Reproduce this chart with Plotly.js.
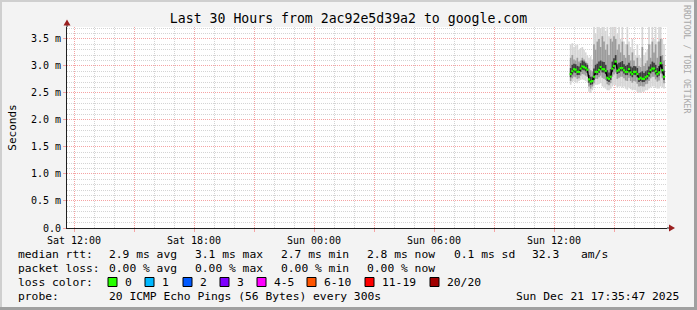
<!DOCTYPE html>
<html><head><meta charset="utf-8">
<script src="https://cdn.plot.ly/plotly-3.0.1.min.js"></script>
<style>html,body{margin:0;padding:0;background:#f3f3f3;overflow:hidden}#chart{width:697px;height:310px}</style>
</head><body><div id="chart"></div>
<script>
// ---- data (ms) ----
const firstSample = {day: '2025-12-21', hour: 12, minute: 50};
const stepMinutes = 5;
const median = [2.85,2.90,2.94,2.93,2.89,2.89,2.95,2.99,2.98,2.96,2.93,2.75,2.71,2.72,2.80,2.89,2.89,2.93,2.98,2.94,2.94,2.91,2.78,2.76,2.80,2.95,3.00,3.08,2.91,2.93,2.96,2.96,2.92,2.89,2.89,2.94,2.88,2.85,2.89,2.89,2.85,2.76,2.78,2.76,2.76,2.79,2.81,2.86,2.92,2.95,2.95,2.90,2.85,2.88,3.05,2.92,2.80];
const maxPing = [3.40,3.42,3.35,3.38,3.40,3.30,3.33,3.35,3.30,3.25,3.20,3.15,3.18,3.12,3.80,3.60,3.80,3.80,3.70,3.80,3.80,3.65,3.80,3.55,3.80,3.80,3.80,3.80,3.60,3.80,3.50,3.80,3.45,3.40,3.80,3.45,3.35,3.50,3.30,3.20,3.40,3.20,3.15,3.80,3.20,3.25,3.30,3.80,3.40,3.80,3.50,3.80,3.45,3.80,3.80,3.50,3.40];
const minPing = [2.65,2.70,2.72,2.70,2.68,2.72,2.74,2.75,2.74,2.72,2.70,2.52,2.50,2.55,2.62,2.65,2.65,2.66,2.68,2.62,2.60,2.58,2.55,2.55,2.58,2.62,2.65,2.64,2.60,2.62,2.62,2.60,2.62,2.58,2.56,2.60,2.57,2.55,2.56,2.55,2.52,2.50,2.50,2.52,2.52,2.55,2.55,2.58,2.60,2.62,2.62,2.60,2.58,2.58,2.62,2.60,2.58];
const midHi = [3.15,3.20,3.12,3.10,3.15,3.08,3.10,3.15,3.12,3.08,3.05,2.95,2.92,2.90,3.40,3.30,3.45,3.50,3.35,3.55,3.45,3.30,3.40,3.20,3.50,3.45,3.55,3.50,3.30,3.40,3.25,3.45,3.20,3.15,3.40,3.20,3.10,3.25,3.10,3.00,3.15,3.00,2.98,3.35,3.00,3.05,3.10,3.40,3.15,3.45,3.25,3.40,3.15,3.45,3.50,3.20,3.10];
const midLo = [2.72,2.77,2.80,2.79,2.76,2.77,2.82,2.85,2.84,2.82,2.80,2.62,2.58,2.62,2.68,2.76,2.76,2.79,2.82,2.78,2.76,2.74,2.66,2.64,2.68,2.80,2.84,2.88,2.76,2.78,2.80,2.80,2.77,2.73,2.72,2.78,2.72,2.69,2.72,2.71,2.67,2.62,2.63,2.62,2.62,2.66,2.67,2.72,2.77,2.80,2.80,2.75,2.71,2.73,2.86,2.77,2.68];
const coreHi = [2.96,3.02,3.04,3.03,3.00,2.99,3.05,3.10,3.08,3.05,3.02,2.83,2.80,2.80,2.95,3.02,3.04,3.08,3.10,3.08,3.07,3.02,2.92,2.88,2.94,3.08,3.14,3.20,3.03,3.06,3.07,3.09,3.03,3.00,3.02,3.06,2.99,2.97,3.00,2.99,2.96,2.87,2.88,2.90,2.87,2.90,2.92,2.99,3.03,3.08,3.06,3.02,2.96,3.00,3.18,3.03,2.91];
const coreLo = [2.79,2.84,2.88,2.87,2.83,2.83,2.89,2.93,2.92,2.90,2.87,2.69,2.65,2.66,2.74,2.83,2.83,2.87,2.92,2.88,2.88,2.85,2.72,2.70,2.74,2.89,2.94,3.02,2.85,2.87,2.90,2.90,2.86,2.83,2.83,2.88,2.82,2.79,2.83,2.83,2.79,2.70,2.72,2.70,2.70,2.73,2.75,2.80,2.86,2.89,2.89,2.84,2.79,2.82,2.99,2.86,2.74];

const xRange = ['2025-12-20 11:39', '2025-12-21 17:39'];
const xTickVals = ['2025-12-20 12:00','2025-12-20 15:00','2025-12-20 18:00','2025-12-20 21:00','2025-12-21 00:00','2025-12-21 03:00','2025-12-21 06:00','2025-12-21 09:00','2025-12-21 12:00','2025-12-21 15:00'];
const xTickText = ['Sat 12:00','','Sat 18:00','','Sun 00:00','','Sun 06:00','','Sun 12:00',''];
const yTickVals = [0,0.5,1.0,1.5,2.0,2.5,3.0,3.5];
const yTickText = ['0.0','0.5 m','1.0 m','1.5 m','2.0 m','2.5 m','3.0 m','3.5 m'];

const titleText = 'Last 30 Hours from 2ac92e5d39a2 to google.com';
const rttLabels = ['median rtt:','2.9 ms avg','3.1 ms max','2.7 ms min','2.8 ms now','0.1 ms sd','32.3','am/s'];
const lossLabels = ['packet loss:','0.00 % avg','0.00 % max','0.00 % min','0.00 % now'];
const lossColorNames = ['0','1','2','3','4-5','6-10','11-19','20/20'];
const lossColors = ['#26ff00','#00b8ff','#0059ff','#7e00ff','#ff00ff','#ff5500','#ff0000','#a10000'];
const probeText = '20 ICMP Echo Pings (56 Bytes) every 300s';
const dateText = 'Sun Dec 21 17:35:47 2025';

// ---- build ----
const times = median.map((_, i) => {
  const m = firstSample.hour * 60 + firstSample.minute + stepMinutes * i;
  return firstSample.day + ' ' + String(Math.floor(m / 60)).padStart(2, '0') + ':' + String(m % 60).padStart(2, '0');
});
const W = 697, H = 310, L = 67, R = 667, T = 27, B = 228;
const px = x => (x - L) / (R - L);
const py = y => (B - y) / (B - T);
const mono = 'DejaVu Sans Mono';

function band(lo, hi, color) {
  return {type: 'bar', x: times, base: lo, y: hi.map((v, i) => v - lo[i]), width: stepMinutes * 60000,
    marker: {color: color, line: {width: 0}}, hoverinfo: 'skip', showlegend: false};
}
const traces = [
  band(minPing, maxPing, '#d6d6d6'),
  band(midLo, midHi, '#9c9c9c'),
  band(coreLo, coreHi, '#3c3c3c'),
  {type: 'scatter', mode: 'lines', x: times, y: median, line: {color: '#000000', width: 1.3}, hoverinfo: 'skip', showlegend: false},
  {type: 'scatter', mode: 'markers', x: times, y: median, marker: {symbol: 'square', size: 2.2, color: lossColors[0], line: {width: 0}}, hoverinfo: 'skip', showlegend: false}
];

const ann = [];
const shapes = [];
function txt(s, x, y, opts) {
  ann.push(Object.assign({text: s, xref: 'paper', yref: 'paper', x: px(x), y: py(y), xanchor: 'left', yanchor: 'middle',
    showarrow: false, font: {family: mono, size: 11.3, color: '#000'}}, opts || {}));
}
const rttX = [16,107,193,279,365,452,530,579];
rttLabels.forEach((s, i) => txt(s, rttX[i], 254));
lossLabels.forEach((s, i) => txt(s, rttX[i], 268));
txt('loss color:', 16, 282);
const boxX = [108,145,183,220,257,307,365,430];
lossColorNames.forEach((s, i) => {
  shapes.push({type: 'rect', xref: 'paper', yref: 'paper', x0: px(boxX[i]), x1: px(boxX[i] + 9), y0: py(286.5), y1: py(277.5),
    fillcolor: lossColors[i], line: {color: '#000', width: 1}});
  txt(s, boxX[i] + 15, 282);
});
txt('probe:', 16, 296);
txt(probeText, 107, 296);
txt(dateText, 681, 296, {xanchor: 'right'});
ann.push({text: 'RRDTOOL / TOBI OETIKER', xref: 'paper', yref: 'paper', x: px(687), y: py(59), textangle: 90,
  showarrow: false, xanchor: 'center', yanchor: 'middle', font: {family: mono, size: 8.2, color: '#a8a8a8'}});

// axis extensions + arrows
const axisCol = '#202020', arrowCol = '#9a1f1f';
shapes.push({type: 'line', xref: 'paper', yref: 'paper', x0: px(R), x1: px(670), y0: py(B), y1: py(B), line: {color: axisCol, width: 1}});
shapes.push({type: 'path', xref: 'paper', yref: 'paper', path: `M ${px(669)} ${py(B - 3.5)} L ${px(675)} ${py(B)} L ${px(669)} ${py(B + 3.5)} Z`, fillcolor: arrowCol, line: {width: 0}});
shapes.push({type: 'line', xref: 'paper', yref: 'paper', x0: px(L), x1: px(L), y0: py(T), y1: py(24), line: {color: axisCol, width: 1}});
shapes.push({type: 'path', xref: 'paper', yref: 'paper', path: `M ${px(L - 3.5)} ${py(25.5)} L ${px(L)} ${py(19.5)} L ${px(L + 3.5)} ${py(25.5)} Z`, fillcolor: arrowCol, line: {width: 0}});
// 3D frame
const frame = (x0, y0, x1, y1, c) => shapes.push({type: 'rect', xref: 'paper', yref: 'paper', x0: px(x0), x1: px(x1), y0: py(y1), y1: py(y0), fillcolor: c, line: {width: 0}});
frame(0, 0, W, 2, '#cfcfcf');
frame(0, 0, 2, H, '#cfcfcf');
frame(W - 3, 0, W, H, '#a0a0a0');
frame(0, H - 3, W, H, '#a0a0a0');

const minorGrid = '#d4d4d4', majorGrid = '#f5a3a3';
const layout = {
  width: W, height: H,
  margin: {l: L, r: W - R, t: T, b: H - B, pad: 0},
  paper_bgcolor: '#f3f3f3', plot_bgcolor: '#ffffff',
  barmode: 'overlay', showlegend: false,
  title: {text: titleText, xref: 'container', yref: 'container', x: 0.5, y: 1 - 18 / H, xanchor: 'center', yanchor: 'middle',
    font: {family: mono, size: 13.2, color: '#000'}},
  xaxis: {type: 'date', range: xRange, tickmode: 'array', tickvals: xTickVals, ticktext: xTickText,
    showgrid: true, gridcolor: majorGrid, griddash: '1px,1px', gridwidth: 1,
    ticks: 'outside', ticklen: 3, tickcolor: majorGrid, tickfont: {family: mono, size: 10, color: '#000'},
    showline: true, linecolor: axisCol, linewidth: 1, zeroline: false, fixedrange: true,
    minor: {tickmode: 'linear', tick0: '2025-12-20 12:00', dtick: 3600000, showgrid: true, gridcolor: minorGrid, griddash: '1px,1px', gridwidth: 1}},
  yaxis: {range: [0, 3.72], tickmode: 'array', tickvals: yTickVals, ticktext: yTickText,
    showgrid: true, gridcolor: majorGrid, griddash: '1px,1px', gridwidth: 1,
    ticks: 'outside', ticklen: 3, tickcolor: majorGrid, tickfont: {family: mono, size: 10, color: '#000'},
    showline: true, linecolor: axisCol, linewidth: 1, zeroline: false, fixedrange: true,
    title: {text: 'Seconds', font: {family: mono, size: 11, color: '#000'}, standoff: 12},
    minor: {tickmode: 'linear', tick0: 0, dtick: 0.1, showgrid: true, gridcolor: minorGrid, griddash: '1px,1px', gridwidth: 1}},
  annotations: ann, shapes: shapes
};
Plotly.newPlot('chart', traces, layout, {staticPlot: true, displayModeBar: false});
</script></body></html>
